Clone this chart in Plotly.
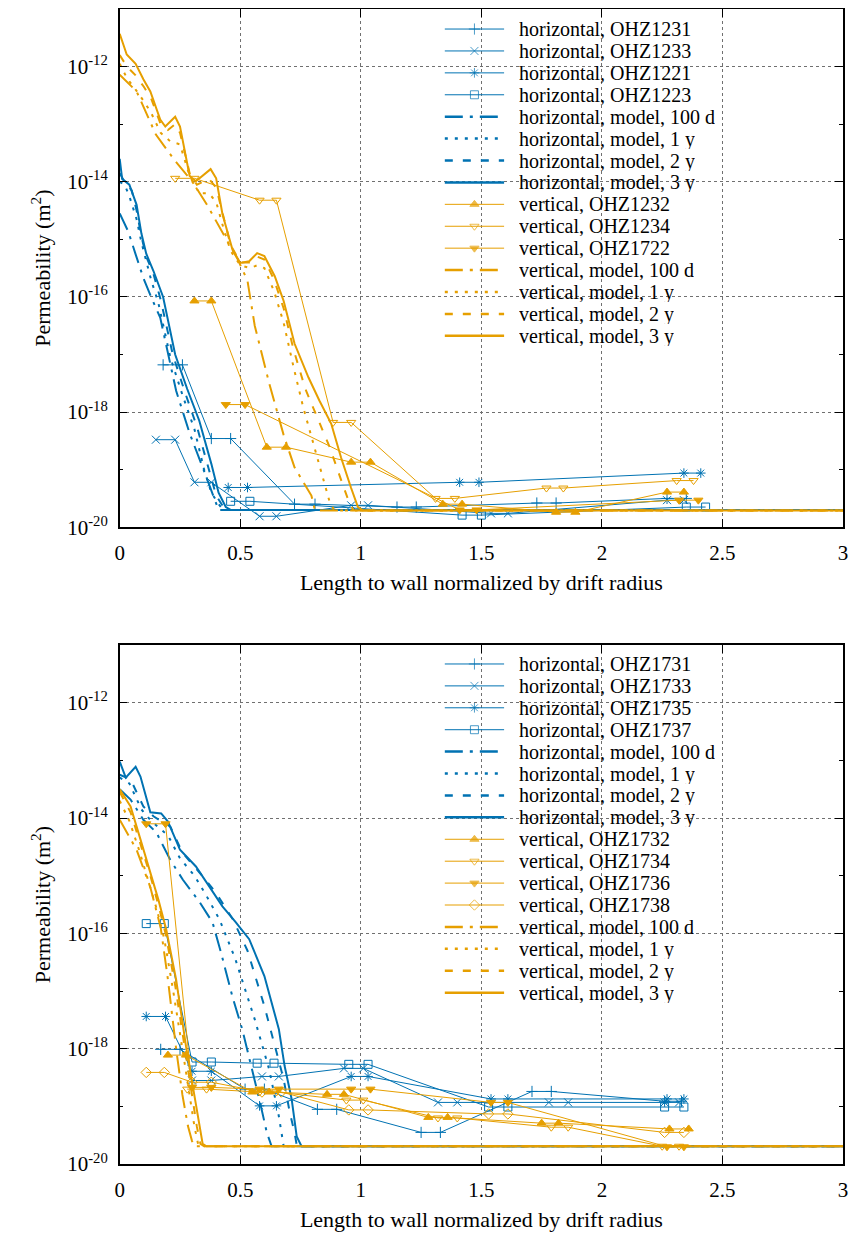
import numpy as np
import plotly.graph_objects as go

BLUE = "#0072b2"
ORANGE = "#e69f00"
FONT = "Liberation Serif, Times New Roman, serif"

# ---------------- TOP PANEL DATA (x: length/drift radius, y: log10 permeability) ----------------
h1231_x = [0.18, 0.26, 0.38, 0.46, 0.725, 0.81, 1.15, 1.23, 1.73, 1.81, 2.27, 2.35]
h1231_y = [-17.18, -17.18, -18.46, -18.46, -19.6, -19.6, -19.65, -19.65, -19.58, -19.58, -19.5, -19.5]
h1233_x = [0.15, 0.23, 0.31, 0.38, 0.58, 0.65, 0.96, 1.03, 1.54, 1.61, 2.27, 2.34]
h1233_y = [-18.48, -18.48, -19.22, -19.22, -19.81, -19.81, -19.62, -19.62, -19.76, -19.76, -19.53, -19.53]
h1221_x = [0.45, 0.53, 1.41, 1.49, 2.34, 2.41]
h1221_y = [-19.31, -19.31, -19.22, -19.22, -19.06, -19.06]
h1223_x = [0.46, 0.54, 1.42, 1.50, 2.35, 2.43]
h1223_y = [-19.55, -19.55, -19.79, -19.79, -19.65, -19.65]
v1232_x = [0.31, 0.38, 0.61, 0.69, 0.96, 1.04, 1.34, 1.42, 1.81, 1.89, 2.27, 2.34]
v1232_y = [-16.07, -16.07, -18.61, -18.61, -18.87, -18.87, -19.6, -19.6, -19.74, -19.74, -19.39, -19.39]
v1234_x = [0.23, 0.31, 0.58, 0.65, 0.885, 0.96, 1.31, 1.39, 1.77, 1.84, 2.31, 2.38]
v1234_y = [-13.94, -13.94, -14.32, -14.32, -18.18, -18.18, -19.5, -19.5, -19.32, -19.32, -19.19, -19.19]
v1722_x = [0.44, 0.52, 1.41, 1.48, 2.32, 2.40]
v1722_y = [-17.87, -17.87, -19.7, -19.7, -19.53, -19.53]

# top panel model curves
t_h100d_x = [0, 0.035, 0.066, 0.098, 0.13, 0.168, 0.234, 0.29, 0.344, 0.393, 0.41, 3]
t_h100d_y = [-14.55, -14.86, -15.26, -15.67, -16.0, -16.36, -17.63, -18.37, -18.96, -19.5, -19.7, -19.7]
t_h1y_x = [0, 0.02, 0.04, 0.07, 0.09, 0.11, 0.13, 0.16, 0.21, 0.26, 0.31, 0.35, 0.38, 0.41, 0.43, 3]
t_h1y_y = [-14.0, -14.05, -14.25, -14.65, -15.05, -15.4, -15.7, -16.1, -17.05, -17.7, -18.3, -19.0, -19.4, -19.6, -19.7, -19.7]
t_h2y_x = [0, 0.02, 0.05, 0.07, 0.09, 0.11, 0.14, 0.17, 0.22, 0.27, 0.32, 0.37, 0.40, 0.43, 0.45, 3]
t_h2y_y = [-13.85, -14.0, -14.15, -14.5, -14.95, -15.3, -15.6, -16.05, -17.0, -17.65, -18.25, -19.0, -19.45, -19.65, -19.7, -19.7]
t_h3y_x = [0, 0.01, 0.04, 0.07, 0.09, 0.11, 0.14, 0.18, 0.23, 0.28, 0.33, 0.38, 0.41, 0.44, 0.46, 3]
t_h3y_y = [-13.6, -13.95, -14.05, -14.4, -14.9, -15.25, -15.55, -16.0, -17.0, -17.6, -18.15, -18.9, -19.4, -19.65, -19.7, -19.7]

t_v100d_x = [0, 0.07, 0.15, 0.23, 0.30, 0.365, 0.434, 0.49, 0.53, 0.56, 0.62, 0.68, 0.725, 0.795, 0.81, 3]
t_v100d_y = [-12.14, -12.43, -13.18, -13.64, -13.99, -14.42, -14.94, -15.35, -15.72, -16.5, -17.5, -18.4, -18.96, -19.45, -19.71, -19.71]
t_v1y_x = [0, 0.03, 0.066, 0.1, 0.13, 0.17, 0.21, 0.25, 0.29, 0.33, 0.37, 0.4, 0.43, 0.46, 0.5, 0.54, 0.57, 0.6, 0.64, 0.68, 0.72, 0.76, 0.8, 0.84, 0.87, 0.89, 3]
t_v1y_y = [-11.95, -12.2, -12.4, -12.6, -12.8, -13.15, -13.3, -13.35, -13.9, -14.2, -14.2, -14.35, -14.8, -15.2, -15.45, -15.5, -15.45, -15.5, -15.9, -16.45, -17.2, -17.9, -18.5, -19.1, -19.55, -19.71, -19.71]
t_v2y_x = [0, 0.03, 0.066, 0.1, 0.13, 0.17, 0.2, 0.23, 0.25, 0.29, 0.32, 0.37, 0.4, 0.43, 0.46, 0.5, 0.54, 0.57, 0.6, 0.64, 0.68, 0.72, 0.77, 0.82, 0.87, 0.92, 0.95, 0.97, 3]
t_v2y_y = [-11.8, -12.0, -12.15, -12.35, -12.55, -13.0, -13.1, -13.0, -13.15, -13.85, -14.05, -13.95, -14.1, -14.6, -15.1, -15.4, -15.4, -15.3, -15.35, -15.7, -16.2, -16.9, -17.6, -18.1, -18.6, -19.2, -19.55, -19.71, -19.71]
t_v3y_x = [0, 0.029, 0.066, 0.098, 0.127, 0.168, 0.189, 0.23, 0.25, 0.29, 0.316, 0.377, 0.4, 0.426, 0.467, 0.5, 0.537, 0.57, 0.6, 0.643, 0.68, 0.725, 0.783, 0.828, 0.877, 0.918, 0.959, 0.988, 1.01, 3]
t_v3y_y = [-11.43, -11.79, -11.95, -12.22, -12.43, -12.92, -13.04, -12.87, -13.04, -13.9, -13.99, -13.78, -13.94, -14.56, -15.17, -15.41, -15.38, -15.24, -15.29, -15.64, -16.07, -16.81, -17.4, -17.8, -18.2, -18.79, -19.31, -19.65, -19.71, -19.71]

# ---------------- BOTTOM PANEL DATA ----------------
h1731_x = [0.17, 0.25, 0.52, 0.60, 0.82, 0.90, 1.25, 1.33, 1.71, 1.79, 2.26, 2.33]
h1731_y = [-18.01, -18.01, -18.7, -18.7, -19.05, -19.05, -19.45, -19.45, -18.74, -18.74, -18.91, -18.91]
h1733_x = [0.30, 0.38, 0.59, 0.66, 0.93, 1.01, 1.32, 1.40, 1.78, 1.86, 2.26, 2.32]
h1733_y = [-18.55, -18.55, -18.48, -18.48, -18.34, -18.34, -18.93, -18.93, -18.93, -18.93, -18.93, -18.93]
h1735_x = [0.11, 0.19, 0.30, 0.38, 0.58, 0.65, 0.96, 1.03, 1.54, 1.61, 2.27, 2.34]
h1735_y = [-17.44, -17.44, -18.39, -18.39, -18.99, -18.99, -18.48, -18.48, -18.87, -18.87, -18.87, -18.87]
h1737_x = [0.11, 0.185, 0.30, 0.38, 0.57, 0.64, 0.95, 1.03, 1.53, 1.61, 2.26, 2.34]
h1737_y = [-15.83, -15.83, -18.23, -18.23, -18.25, -18.25, -18.27, -18.27, -19.01, -19.01, -19.01, -19.01]
v1732_x = [0.20, 0.275, 0.55, 0.62, 0.86, 0.93, 1.28, 1.36, 1.75, 1.82, 2.28, 2.36]
v1732_y = [-18.11, -18.11, -18.75, -18.75, -18.79, -18.79, -19.19, -19.19, -19.29, -19.29, -19.39, -19.39]
v1734_x = [0.28, 0.36, 0.58, 0.65, 0.94, 1.01, 1.32, 1.40, 1.79, 1.86, 2.25, 2.32]
v1734_y = [-18.70, -18.70, -18.75, -18.75, -18.89, -18.89, -19.2, -19.2, -19.36, -19.36, -19.69, -19.69]
v1736_x = [0.11, 0.19, 0.30, 0.38, 0.58, 0.66, 0.96, 1.04, 1.54, 1.61, 2.27, 2.34]
v1736_y = [-14.1, -14.1, -18.67, -18.67, -18.7, -18.7, -18.7, -18.7, -18.93, -18.93, -19.7, -19.7]
v1738_x = [0.11, 0.185, 0.30, 0.38, 0.59, 0.67, 0.95, 1.03, 1.53, 1.61, 2.26, 2.34]
v1738_y = [-18.41, -18.41, -18.58, -18.58, -18.75, -18.75, -19.06, -19.06, -19.13, -19.13, -19.45, -19.45]

# bottom panel model curves
b_h100d_x = [0, 0.045, 0.098, 0.152, 0.209, 0.262, 0.332, 0.385, 0.42, 0.467, 0.508, 0.55, 0.582, 0.61, 0.63, 3]
b_h100d_y = [-13.5, -13.68, -14.03, -14.25, -14.72, -15.07, -15.46, -15.81, -16.33, -17.09, -17.66, -18.36, -18.93, -19.45, -19.69, -19.69]
b_h1y_x = [0, 0.04, 0.09, 0.13, 0.2, 0.25, 0.31, 0.36, 0.414, 0.48, 0.56, 0.62, 0.66, 0.68, 3]
b_h1y_y = [-13.3, -13.4, -13.85, -14.05, -14.3, -14.7, -15.0, -15.35, -15.76, -16.45, -17.49, -18.36, -19.17, -19.69, -19.69]
b_h2y_x = [0, 0.045, 0.098, 0.14, 0.21, 0.26, 0.33, 0.398, 0.47, 0.53, 0.6, 0.64, 0.68, 0.705, 0.725, 0.735, 3]
b_h2y_y = [-13.25, -13.33, -13.8, -13.97, -14.15, -14.6, -14.94, -15.29, -15.76, -16.3, -17.26, -17.89, -18.53, -19.1, -19.45, -19.69, -19.69]
b_h3y_x = [0, 0.025, 0.066, 0.086, 0.127, 0.172, 0.2, 0.25, 0.316, 0.373, 0.426, 0.48, 0.537, 0.6, 0.66, 0.684, 0.713, 0.734, 0.754, 3]
b_h3y_y = [-13.02, -13.3, -13.11, -13.28, -13.9, -13.92, -14.06, -14.55, -14.84, -15.19, -15.53, -15.8, -16.1, -16.74, -17.66, -18.3, -18.87, -19.52, -19.69, -19.69]

b_v100d_x = [0, 0.07, 0.127, 0.17, 0.2, 0.234, 0.26, 0.283, 0.3, 0.31, 3]
b_v100d_y = [-14.03, -14.55, -15.2, -15.9, -16.8, -18.0, -18.8, -19.34, -19.6, -19.69, -19.69]
b_v1y_x = [0, 0.04, 0.08, 0.12, 0.155, 0.185, 0.22, 0.26, 0.29, 0.31, 0.325, 0.34, 3]
b_v1y_y = [-13.7, -14.05, -14.55, -15.1, -15.6, -16.1, -16.95, -18.0, -18.85, -19.35, -19.65, -19.69, -19.69]
b_v2y_x = [0, 0.045, 0.086, 0.127, 0.16, 0.19, 0.23, 0.27, 0.30, 0.32, 0.335, 0.35, 3]
b_v2y_y = [-13.55, -13.9, -14.45, -15.0, -15.5, -16.0, -16.9, -18.0, -18.85, -19.35, -19.65, -19.69, -19.69]
b_v3y_x = [0, 0.045, 0.086, 0.127, 0.16, 0.193, 0.234, 0.275, 0.31, 0.33, 0.344, 0.36, 3]
b_v3y_y = [-13.5, -13.8, -14.37, -14.94, -15.41, -15.93, -16.8, -17.96, -18.82, -19.34, -19.65, -19.69, -19.69]

x_ticks = [0, 0.5, 1, 1.5, 2, 2.5, 3]
x_ticktext = ["0", "0.5", "1", "1.5", "2", "2.5", "3"]
y_tick_exps = [-20, -18, -16, -14, -12]
y_minor_exps = [-19, -17, -15, -13, -11]

# The browser body keeps its default 8px margin; the figure sits at (8, 8).
# Target positions below are in reference-picture pixels; SY compensates a slight
# vertical squeeze observed in the photographed page.
OFF = 8
SY = 1.009
W = 858 - 2 * OFF
H = int(round(1233 * SY)) - 2 * OFF


def px_x(p):  # reference pixel -> paper fraction
    return (p - OFF) / W


def px_y(p):
    return 1 - (p * SY - OFF) / H


DASH_100D = "18px,7px,3px,7px"
DASH_1Y = "3px,7px"
DASH_2Y = "8px,10px"

fig = go.Figure()

# legend layout (reference pixel positions)
LEG_LINE_X0, LEG_LINE_X1, LEG_TEXT_X = 445, 505, 519
LEG_TOP_Y0, LEG_BOT_Y0, LEG_DY = 28, 664, 21.95
legend_rows = {1: 0, 2: 0}


def k(vals):
    return (10.0 ** np.array(vals)).tolist()


def legend_entry(panel, name, color, width, dash, symbol=None):
    i = legend_rows[panel]
    legend_rows[panel] += 1
    y0 = (LEG_TOP_Y0 if panel == 1 else LEG_BOT_Y0) + i * LEG_DY
    xm = (LEG_LINE_X0 + LEG_LINE_X1) / 2
    if symbol is None:
        fig.add_trace(go.Scatter(x=[LEG_LINE_X0, LEG_LINE_X1], y=[y0, y0], mode="lines",
                                 xaxis="x3", yaxis="y3", showlegend=False, hoverinfo="skip",
                                 line=dict(color=color, width=width, dash=dash)))
    else:
        fig.add_trace(go.Scatter(x=[LEG_LINE_X0, xm, LEG_LINE_X1], y=[y0, y0, y0], mode="lines+markers",
                                 xaxis="x3", yaxis="y3", showlegend=False, hoverinfo="skip",
                                 line=dict(color=color, width=width),
                                 marker=dict(symbol=symbol, size=[0, 8, 0], color=color,
                                             line=dict(color=color, width=1))))
    fig.add_annotation(x=LEG_TEXT_X, y=y0, xref="x3", yref="y3", text=name, showarrow=False,
                       xanchor="left", yanchor="middle", borderpad=0, height=20,
                       font=dict(family=FONT, size=20, color="black"))


def data_trace(x, y, name, color, symbol, panel):
    xa, ya = ("x", "y") if panel == 1 else ("x2", "y2")
    fig.add_trace(go.Scatter(
        x=x, y=k(y), name=name, mode="lines+markers", xaxis=xa, yaxis=ya, showlegend=False,
        line=dict(color=color, width=1),
        marker=dict(symbol=symbol, size=8, color=color, line=dict(color=color, width=1)),
    ))
    legend_entry(panel, name, color, 1, "solid", symbol)


def model_trace(x, y, name, color, dash, panel):
    xa, ya = ("x", "y") if panel == 1 else ("x2", "y2")
    fig.add_trace(go.Scatter(
        x=x, y=k(y), name=name, mode="lines", xaxis=xa, yaxis=ya, showlegend=False,
        line=dict(color=color, width=2, dash=dash),
    ))
    legend_entry(panel, name, color, 2.5, dash)


# top panel
data_trace(h1231_x, h1231_y, "horizontal, OHZ1231", BLUE, "cross-thin-open", 1)
data_trace(h1233_x, h1233_y, "horizontal, OHZ1233", BLUE, "x-thin-open", 1)
data_trace(h1221_x, h1221_y, "horizontal, OHZ1221", BLUE, "asterisk-open", 1)
data_trace(h1223_x, h1223_y, "horizontal, OHZ1223", BLUE, "square-open", 1)
model_trace(t_h100d_x, t_h100d_y, "horizontal, model, 100 d", BLUE, DASH_100D, 1)
model_trace(t_h1y_x, t_h1y_y, "horizontal, model, 1 y", BLUE, DASH_1Y, 1)
model_trace(t_h2y_x, t_h2y_y, "horizontal, model, 2 y", BLUE, DASH_2Y, 1)
model_trace(t_h3y_x, t_h3y_y, "horizontal, model, 3 y", BLUE, "solid", 1)
data_trace(v1232_x, v1232_y, "vertical, OHZ1232", ORANGE, "triangle-up", 1)
data_trace(v1234_x, v1234_y, "vertical, OHZ1234", ORANGE, "triangle-down-open", 1)
data_trace(v1722_x, v1722_y, "vertical, OHZ1722", ORANGE, "triangle-down", 1)
model_trace(t_v100d_x, t_v100d_y, "vertical, model, 100 d", ORANGE, DASH_100D, 1)
model_trace(t_v1y_x, t_v1y_y, "vertical, model, 1 y", ORANGE, DASH_1Y, 1)
model_trace(t_v2y_x, t_v2y_y, "vertical, model, 2 y", ORANGE, DASH_2Y, 1)
model_trace(t_v3y_x, t_v3y_y, "vertical, model, 3 y", ORANGE, "solid", 1)

# bottom panel
data_trace(h1731_x, h1731_y, "horizontal, OHZ1731", BLUE, "cross-thin-open", 2)
data_trace(h1733_x, h1733_y, "horizontal, OHZ1733", BLUE, "x-thin-open", 2)
data_trace(h1735_x, h1735_y, "horizontal, OHZ1735", BLUE, "asterisk-open", 2)
data_trace(h1737_x, h1737_y, "horizontal, OHZ1737", BLUE, "square-open", 2)
model_trace(b_h100d_x, b_h100d_y, "horizontal, model, 100 d", BLUE, DASH_100D, 2)
model_trace(b_h1y_x, b_h1y_y, "horizontal, model, 1 y", BLUE, DASH_1Y, 2)
model_trace(b_h2y_x, b_h2y_y, "horizontal, model, 2 y", BLUE, DASH_2Y, 2)
model_trace(b_h3y_x, b_h3y_y, "horizontal, model, 3 y", BLUE, "solid", 2)
data_trace(v1732_x, v1732_y, "vertical, OHZ1732", ORANGE, "triangle-up", 2)
data_trace(v1734_x, v1734_y, "vertical, OHZ1734", ORANGE, "triangle-down-open", 2)
data_trace(v1736_x, v1736_y, "vertical, OHZ1736", ORANGE, "triangle-down", 2)
data_trace(v1738_x, v1738_y, "vertical, OHZ1738", ORANGE, "diamond-open", 2)
model_trace(b_v100d_x, b_v100d_y, "vertical, model, 100 d", ORANGE, DASH_100D, 2)
model_trace(b_v1y_x, b_v1y_y, "vertical, model, 1 y", ORANGE, DASH_1Y, 2)
model_trace(b_v2y_x, b_v2y_y, "vertical, model, 2 y", ORANGE, DASH_2Y, 2)
model_trace(b_v3y_x, b_v3y_y, "vertical, model, 3 y", ORANGE, "solid", 2)

xdom = [px_x(116), px_x(848)]
ydom_top = [px_y(527), px_y(8)]
ydom_bot = [px_y(1165), px_y(645)]

axis_common = dict(
    showline=True, linecolor="black", linewidth=1.5, mirror="ticks",
    ticks="inside", ticklen=8, tickcolor="black", tickwidth=1,
    showgrid=True, gridcolor="#707070", griddash="dot", gridwidth=1,
    zeroline=False, tickfont=dict(family=FONT, size=21, color="black"),
    ticklabeloverflow="allow",
)


def xaxis_def(standoff):
    return dict(axis_common, range=[0, 3], tickvals=x_ticks, ticktext=x_ticktext,
                ticklabelstandoff=6,
                title=dict(text="Length to wall normalized by drift radius",
                           font=dict(family=FONT, size=22, color="black"), standoff=standoff))


yaxis_common = dict(axis_common, type="log", range=[-20, -11],
                    tickvals=[10.0 ** e for e in y_tick_exps],
                    ticktext=["10<sup>%d</sup>" % e for e in y_tick_exps],
                    ticklabelstandoff=6,
                    minor=dict(tickvals=[10.0 ** e for e in y_minor_exps], ticks="inside",
                               ticklen=4, tickcolor="black", showgrid=False),
                    title=dict(text="Permeability (m<sup>2</sup>)",
                               font=dict(family=FONT, size=22, color="black"), standoff=10))

fig.update_layout(
    width=W, height=H,
    margin=dict(l=0, r=0, t=0, b=0),
    paper_bgcolor="white", plot_bgcolor="rgba(0,0,0,0)",
    font=dict(family=FONT, size=21, color="black"),
    xaxis=dict(xaxis_def(10), domain=xdom, anchor="y"),
    yaxis=dict(yaxis_common, domain=ydom_top, anchor="x"),
    xaxis2=dict(xaxis_def(11), domain=xdom, anchor="y2"),
    yaxis2=dict(yaxis_common, domain=ydom_bot, anchor="x2"),
    xaxis3=dict(domain=[0, 1], range=[OFF, OFF + W], visible=False, fixedrange=True, anchor="y3"),
    yaxis3=dict(domain=[0, 1], range=[(OFF + H) / SY, OFF / SY], visible=False, fixedrange=True,
                anchor="x3"),
    showlegend=False,
)

fig.write_html("out.html", config={"displayModeBar": False})
